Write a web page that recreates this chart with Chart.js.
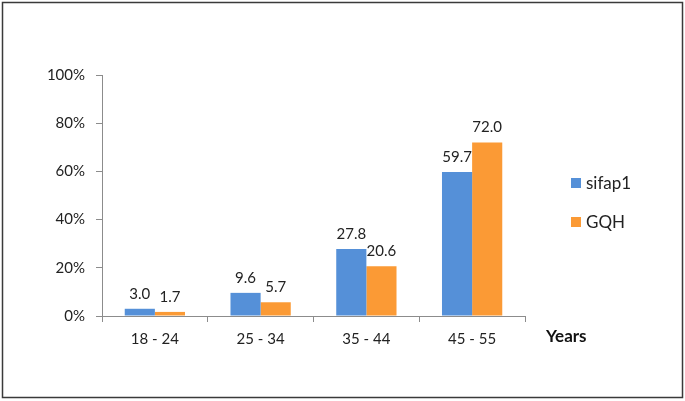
<!DOCTYPE html>
<html lang="en">

<head>
    <meta charset="UTF-8">
    <title>Age groups</title>
    <script src="https://cdn.jsdelivr.net/npm/chart.js"></script>
    <style>
        body {
            margin: 0;
            background: #fff;
        }

        #wrap {
            width: 685px;
            height: 401px;
        }
    </style>
</head>

<body>
    <div id="wrap">
        <canvas id="grafico" width="685" height="401"></canvas>
    </div>

    <script>
        // datos
        const categorias = ['18 - 24', '25 - 34', '35 - 44', '45 - 55'];
        const sifap1 = [3.0, 9.6, 27.8, 59.7];
        const gqh = [1.7, 5.7, 20.6, 72.0];
        const series = ['sifap1', 'GQH'];
        const colores = ['#5590D8', '#FB9A35'];
        const ejeX = 'Years';

        const fuente = 'Lato, "Open Sans", sans-serif';

        // etiquetas, leyenda, titulo del eje y marco
        const extras = {
            id: 'extras',
            afterDatasetsDraw(chart) {
                const c = chart.ctx;
                c.save();
                c.fillStyle = '#222';
                c.font = '15px ' + fuente;
                c.textAlign = 'center';
                c.textBaseline = 'middle';
                chart.data.datasets.forEach((ds, i) => {
                    const meta = chart.getDatasetMeta(i);
                    meta.data.forEach((bar, j) => {
                        c.fillText(ds.data[j].toFixed(1), bar.x, bar.y - 15);
                    });
                });

                // leyenda
                const ys = [183, 222];
                c.textAlign = 'left';
                c.font = '17px ' + fuente;
                chart.data.datasets.forEach((ds, i) => {
                    c.fillStyle = ds.backgroundColor;
                    c.fillRect(571, ys[i] - 5, 10, 10);
                    c.fillStyle = '#222';
                    c.fillText(ds.label, 586, ys[i] + 1);
                });

                // titulo eje x
                c.font = 'bold 17px ' + fuente;
                c.fillStyle = '#111';
                c.fillText(ejeX, 546, 337);

                // marco
                c.strokeStyle = '#3a3a3a';
                c.lineWidth = 1.5;
                c.strokeRect(2.5, 2.5, 680, 395);
                c.restore();
            }
        };

        const ctx = document.getElementById('grafico').getContext('2d');

        new Chart(ctx, {
            type: 'bar',
            data: {
                labels: categorias,
                datasets: [
                    { label: series[0], data: sifap1, backgroundColor: colores[0] },
                    { label: series[1], data: gqh, backgroundColor: colores[1] }
                ]
            },
            options: {
                responsive: false,
                animation: false,
                layout: { padding: { top: 75, right: 160, bottom: 0, left: 0 } },
                datasets: {
                    bar: { categoryPercentage: 0.57, barPercentage: 1.0 }
                },
                plugins: {
                    legend: { display: false },
                    tooltip: { enabled: false }
                },
                scales: {
                    x: {
                        afterFit(s) { s.height = 85; },
                        grid: {
                            drawOnChartArea: false,
                            tickLength: 6,
                            color: '#8c8c8c',
                            offset: true
                        },
                        border: { color: '#8c8c8c', width: 1 },
                        ticks: {
                            color: '#222',
                            padding: 8,
                            font: { family: fuente, size: 15 }
                        }
                    },
                    y: {
                        min: 0,
                        max: 100,
                        afterFit(s) { s.width = 102; },
                        grid: {
                            drawOnChartArea: false,
                            tickLength: 6,
                            color: '#8c8c8c'
                        },
                        border: { color: '#8c8c8c', width: 1 },
                        ticks: {
                            stepSize: 20,
                            color: '#222',
                            padding: 11,
                            font: { family: fuente, size: 15 },
                            callback: v => v + '%'
                        }
                    }
                }
            },
            plugins: [extras]
        });
    </script>
</body>

</html>
